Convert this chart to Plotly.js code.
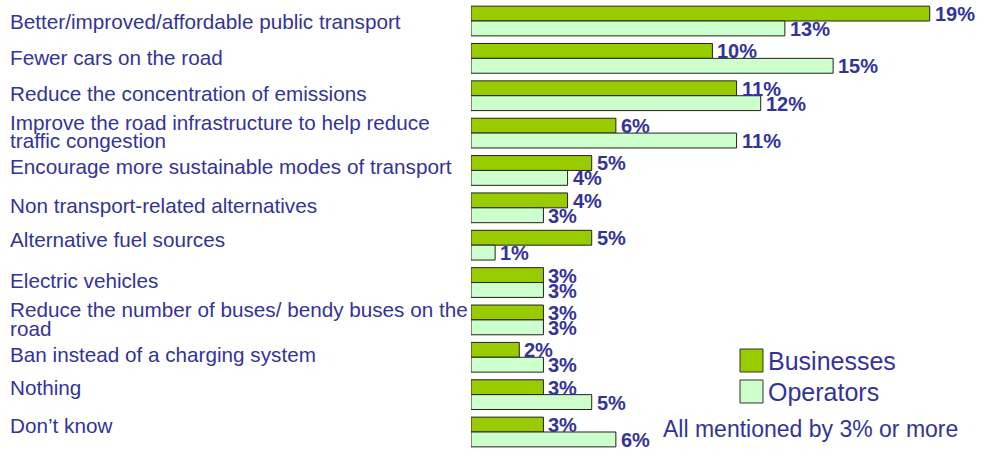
<!DOCTYPE html>
<html>
<head>
<meta charset="utf-8">
<script src="https://cdn.plot.ly/plotly-3.0.1.min.js"></script>
<style>
html,body{margin:0;padding:0;background:#fff;}
#chart{width:982px;height:455px;}
</style>
</head>
<body>
<div id="chart"></div>
<script>
var categories = [
  "Better/improved/affordable public transport",
  "Fewer cars on the road",
  "Reduce the concentration of emissions",
  "Improve the road infrastructure to help reduce<br>traffic congestion",
  "Encourage more sustainable modes of transport",
  "Non transport-related alternatives",
  "Alternative fuel sources",
  "Electric vehicles",
  "Reduce the number of buses/ bendy buses on the<br>road",
  "Ban instead of a charging system",
  "Nothing",
  "Don\u2019t know"
];
var businesses = [19, 10, 11, 6, 5, 4, 5, 3, 3, 2, 3, 3];
var operators  = [13, 15, 12, 11, 4, 3, 1, 3, 3, 3, 5, 6];
var seriesNames = ["Businesses", "Operators"];
var seriesColors = ["#99CC00", "#CCFFCC"];
var footnote = "All mentioned by 3% or more";

// layout tweaks (pixel shifts of the category labels, not data)
var labelShift = [-0.4, 1.3, 2.7, 1.8, 3.5, 2.2, 6, 2.3, 1, 2.8, 7, 6.2];

var textColor = "#333399";
var labelFont = "Arial, 'Liberation Sans', sans-serif";
var plotLeft = 471, plotWidth = 507, plotHeight = 452;

var seriesVals = [businesses, operators];
var traces = seriesVals.map(function(vals, i){
  return {
    type: "bar",
    orientation: "h",
    name: seriesNames[i],
    y: categories,
    x: vals,
    textposition: "none",
    cliponaxis: false,
    marker: {color: seriesColors[i], line: {color: "#222222", width: 1}},
    hoverinfo: "skip",
    showlegend: false
  };
});

var annotations = [];
// value labels, placed at each bar's value through the axes
seriesVals.forEach(function(vals, i){
  vals.forEach(function(v, j){
    annotations.push({
      xref: "x", yref: "y",
      x: v, y: categories[j],
      xanchor: "left", yanchor: "middle",
      xshift: 3, yshift: (i === 0 ? 7.5 : -7.5) - 0.5,
      text: v + "%", showarrow: false,
      font: {family: labelFont, size: 20, color: textColor, weight: "bold"}
    });
  });
});

// category labels
categories.forEach(function(c, j){
  var lines = c.split("<br>");
  lines.forEach(function(line, k){
    var shift = labelShift[j];
    if (lines.length === 2) shift += (k === 0) ? 9.2 : -9.2;
    annotations.push({
      xref: "paper", yref: "y",
      x: (8 - plotLeft) / plotWidth, y: c,
      xanchor: "left", yanchor: "middle",
      yshift: shift,
      text: line, showarrow: false,
      font: {family: labelFont, size: 20.7, color: textColor}
    });
  });
});

// custom legend
var shapes = [];
var legendY = [360.5, 391.5];
seriesNames.forEach(function(n, i){
  shapes.push({
    type: "rect", xref: "paper", yref: "paper",
    x0: (740 - plotLeft) / plotWidth, x1: (763 - plotLeft) / plotWidth,
    y0: 1 - (legendY[i] - 11.5) / plotHeight, y1: 1 - (legendY[i] + 11.5) / plotHeight,
    fillcolor: seriesColors[i], line: {color: "#333333", width: 1}
  });
  annotations.push({
    xref: "paper", yref: "paper",
    x: (766 - plotLeft) / plotWidth, y: 1 - legendY[i] / plotHeight,
    xanchor: "left", yanchor: "middle",
    text: n, showarrow: false,
    font: {family: labelFont, size: 25, color: textColor}
  });
});
annotations.push({
  xref: "paper", yref: "paper",
  x: (661 - plotLeft) / plotWidth, y: 1 - 429 / plotHeight,
  xanchor: "left", yanchor: "middle",
  text: footnote, showarrow: false,
  font: {family: labelFont, size: 23, color: textColor}
});

var layout = {
  width: 982, height: 455,
  margin: {l: plotLeft, r: 982 - plotLeft - plotWidth, t: 0, b: 455 - plotHeight},
  paper_bgcolor: "#ffffff", plot_bgcolor: "#ffffff",
  barmode: "group",
  bargap: 0.204, bargroupgap: 0,
  showlegend: false,
  xaxis: {range: [0, 21], showgrid: false, zeroline: false, showticklabels: false, showline: false, ticks: "", fixedrange: true},
  yaxis: {autorange: "reversed", showgrid: false, zeroline: false, showticklabels: false, showline: false, ticks: "", fixedrange: true, type: "category"},
  annotations: annotations,
  shapes: shapes
};

Plotly.newPlot("chart", traces, layout, {displayModeBar: false, staticPlot: true});
</script>
</body>
</html>
